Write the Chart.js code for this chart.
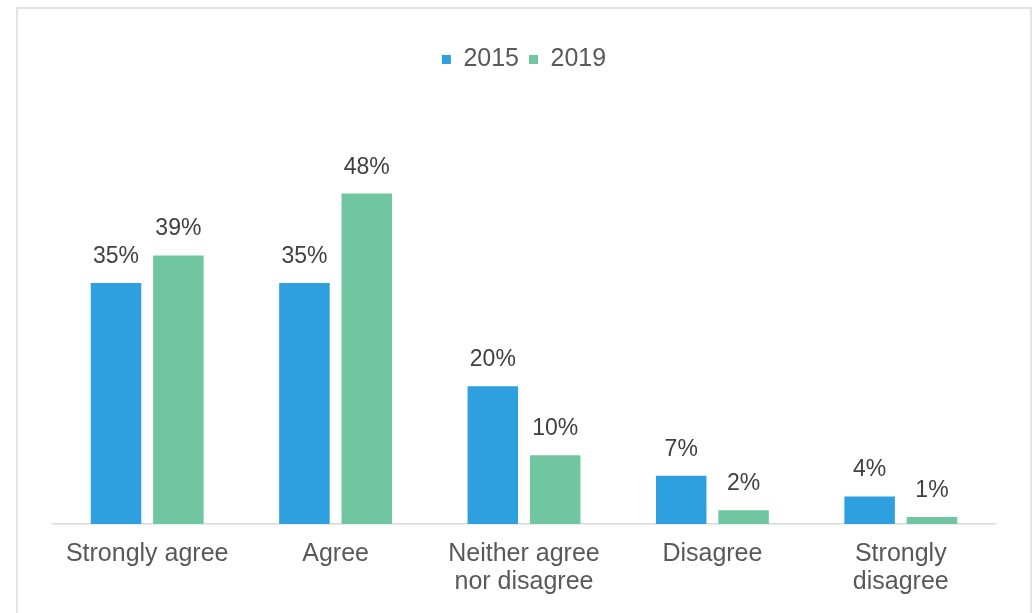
<!DOCTYPE HTML>
<html>
<head>
    <script src="https://cdn.jsdelivr.net/npm/chart.js@4.4.0/dist/chart.umd.min.js"></script>
    <style>
        body { margin: 0; background: #fff; }
        #frame {
            position: absolute; left: 16px; top: 7px;
            width: 1016px; height: 640px;
            border: 2px solid #e3e3e3; box-sizing: border-box;
        }
        #bar-chart { position: absolute; left: 0; top: 0; }
    </style>
</head>
<body>
<div id="frame"></div>
<canvas id="bar-chart" width="1033" height="613"></canvas>

<script>
    var labels = [['Strongly agree'], ['Agree'], ['Neither agree', 'nor disagree'], ['Disagree'], ['Strongly', 'disagree']];
    var data2015 = [35, 35, 20, 7, 4];
    var data2019 = [39, 48, 10, 2, 1];

    // value labels above each bar
    var valueLabels = {
        id: 'valueLabels',
        afterDatasetsDraw: function (chart) {
            var ctx = chart.ctx;
            ctx.save();
            ctx.font = '23px "Liberation Sans", Arial, sans-serif';
            ctx.fillStyle = '#404040';
            ctx.textAlign = 'center';
            ctx.textBaseline = 'alphabetic';
            chart.data.datasets.forEach(function (ds, i) {
                chart.getDatasetMeta(i).data.forEach(function (bar, j) {
                    ctx.fillText(ds.data[j] + '%', bar.x, bar.y - 20);
                });
            });
            ctx.restore();
        }
    };

    new Chart(document.getElementById('bar-chart'), {
        type: 'bar',
        data: {
            labels: labels,
            datasets: [{
                label: '2015',
                data: data2015,
                backgroundColor: '#2e9fdf'
            }, {
                label: '2019',
                data: data2019,
                backgroundColor: '#70c6a0'
            }]
        },
        options: {
            responsive: false,
            animation: false,
            categoryPercentage: 0.662,
            barPercentage: 0.81,
            layout: { padding: { left: 53, right: 38, top: 37, bottom: 9 } },
            plugins: {
                tooltip: { enabled: false },
                legend: {
                    position: 'top',
                    labels: {
                        boxWidth: 9,
                        boxHeight: 9,
                        padding: 10,
                        color: '#595959',
                        font: { family: '"Liberation Sans", Arial, sans-serif', size: 25 }
                    }
                }
            },
            scales: {
                x: {
                    grid: { display: false },
                    border: { color: '#d9d9d9', width: 1.5 },
                    ticks: {
                        padding: 8,
                        color: '#595959',
                        maxRotation: 0,
                        font: { family: '"Liberation Sans", Arial, sans-serif', size: 25, lineHeight: 1.12 }
                    }
                },
                y: {
                    display: false,
                    min: 0,
                    max: 64.2
                }
            }
        },
        plugins: [valueLabels]
    });
</script>

</body>
</html>
